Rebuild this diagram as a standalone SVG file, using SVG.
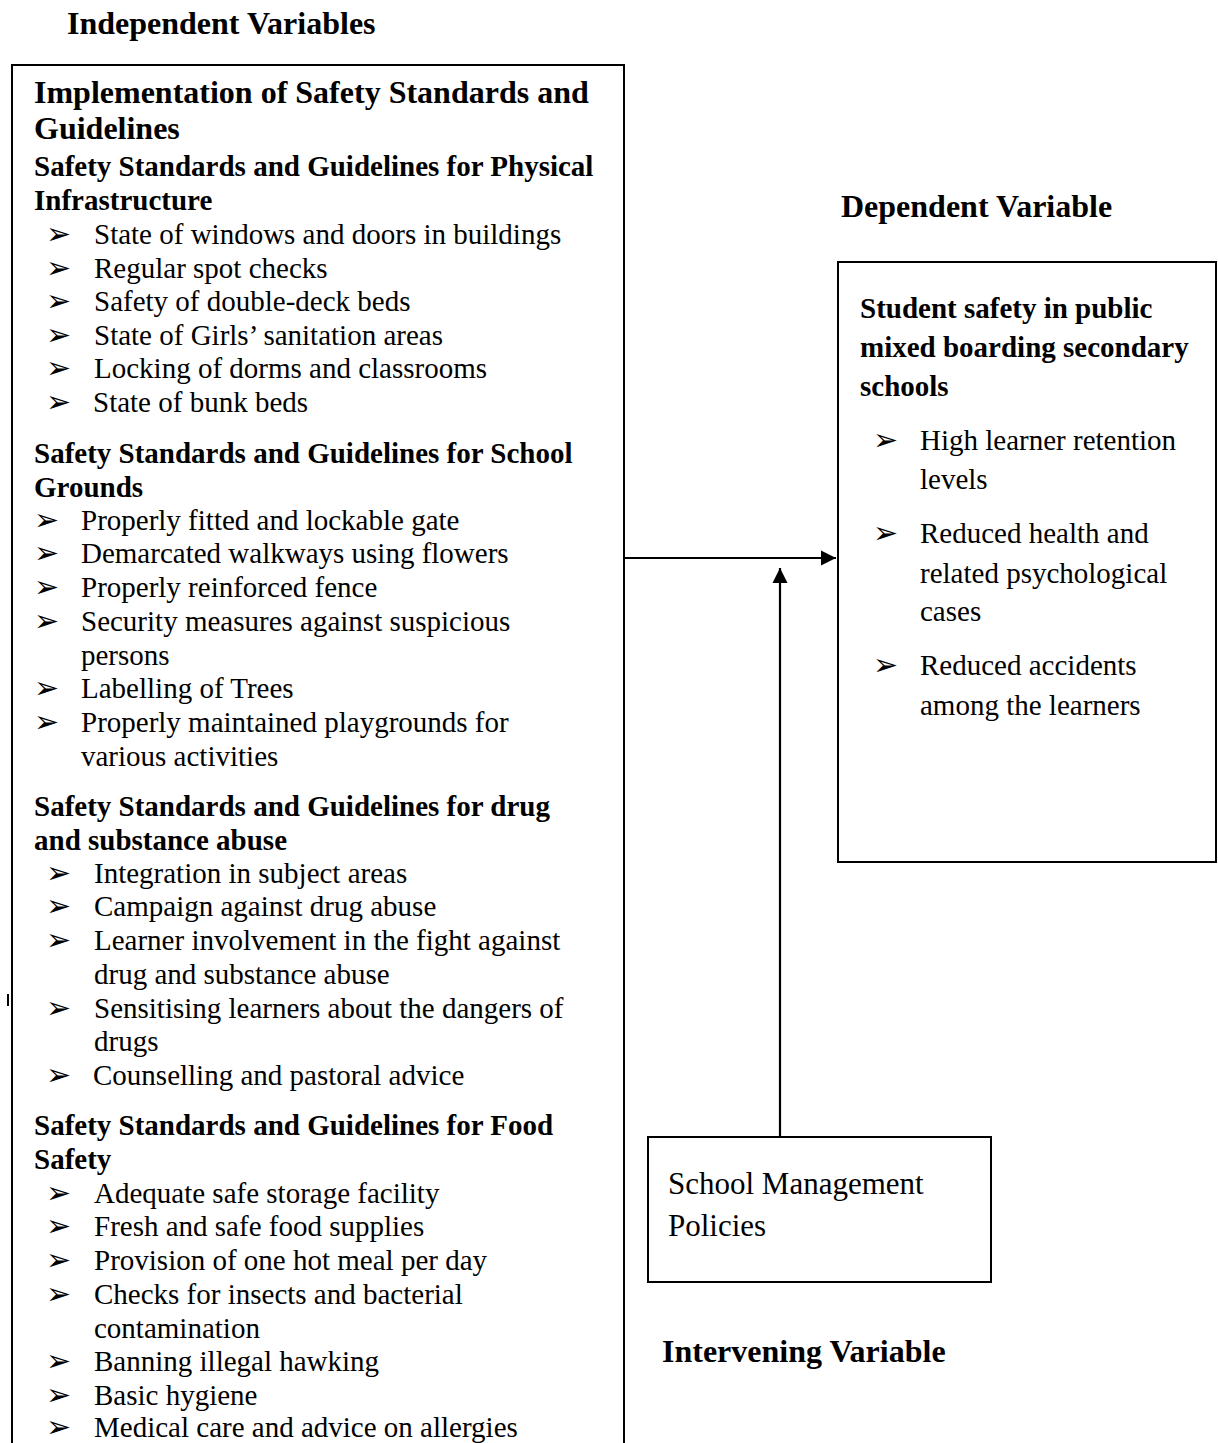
<svg xmlns="http://www.w3.org/2000/svg" width="1218" height="1443" viewBox="0 0 1218 1443">
<defs>
<style>
.h{font-family:"Liberation Serif",serif;font-weight:bold;font-size:32px;fill:#000}
.s{font-family:"Liberation Serif",serif;font-weight:bold;font-size:29px;fill:#000}
.b{font-family:"Liberation Serif",serif;font-size:29px;fill:#000}
.m{font-family:"Liberation Serif",serif;font-size:31px;fill:#000}
.bl{font-family:"DejaVu Sans",sans-serif;font-size:30px;fill:#000}
.box{fill:#fff;stroke:#000;stroke-width:2}
.conn{stroke:#000;stroke-width:2.2;fill:none}
</style>
<marker id="arr" viewBox="0 0 10 10" refX="10" refY="5" markerWidth="7" markerHeight="7" markerUnits="strokeWidth" orient="auto">
<path d="M0,0 L10,5 L0,10 Z" fill="#000"/>
</marker>
</defs>
<rect width="1218" height="1443" fill="#fff"/>

<text class="h" x="67" y="34">Independent Variables</text>
<text class="h" x="841" y="217">Dependent Variable</text>
<text class="h" x="662" y="1362">Intervening Variable</text>

<g id="independent">
<rect class="box" x="12" y="65" width="612" height="1400"/>
<rect x="7" y="994" width="2" height="12" fill="#000"/>
<text class="h" x="34" y="103">Implementation of Safety Standards and</text>
<text class="h" x="34" y="139">Guidelines</text>
<text class="s" x="34" y="176">Safety Standards and Guidelines for Physical</text>
<text class="s" x="34" y="210">Infrastructure</text>
<g class="bl"><text x="46" y="244">➢</text><text x="46" y="278">➢</text><text x="46" y="311">➢</text><text x="46" y="345">➢</text><text x="46" y="378">➢</text><text x="46" y="412">➢</text></g>
<text class="b" x="94" y="244">State of windows and doors in buildings</text>
<text class="b" x="94" y="278">Regular spot checks</text>
<text class="b" x="94" y="311">Safety of double-deck beds</text>
<text class="b" x="94" y="345">State of Girls’ sanitation areas</text>
<text class="b" x="94" y="378">Locking of dorms and classrooms</text>
<text class="b" x="93" y="412">State of bunk beds</text>

<text class="s" x="34" y="463">Safety Standards and Guidelines for School</text>
<text class="s" x="34" y="497">Grounds</text>
<g class="bl"><text x="34" y="530">➢</text><text x="34" y="563">➢</text><text x="34" y="597">➢</text><text x="34" y="631">➢</text><text x="34" y="698">➢</text><text x="34" y="732">➢</text></g>
<text class="b" x="81" y="530">Properly fitted and lockable gate</text>
<text class="b" x="81" y="563">Demarcated walkways using flowers</text>
<text class="b" x="81" y="597">Properly reinforced fence</text>
<text class="b" x="81" y="631">Security measures against suspicious</text>
<text class="b" x="81" y="665">persons</text>
<text class="b" x="81" y="698">Labelling of Trees</text>
<text class="b" x="81" y="732">Properly maintained playgrounds for</text>
<text class="b" x="81" y="766">various activities</text>

<text class="s" x="34" y="816">Safety Standards and Guidelines for drug</text>
<text class="s" x="34" y="850">and substance abuse</text>
<g class="bl"><text x="46" y="883">➢</text><text x="46" y="916">➢</text><text x="46" y="950">➢</text><text x="46" y="1018">➢</text><text x="46" y="1085">➢</text></g>
<text class="b" x="94" y="883">Integration in subject areas</text>
<text class="b" x="94" y="916">Campaign against drug abuse</text>
<text class="b" x="94" y="950">Learner involvement in the fight against</text>
<text class="b" x="94" y="984">drug and substance abuse</text>
<text class="b" x="94" y="1018">Sensitising learners about the dangers of</text>
<text class="b" x="94" y="1051">drugs</text>
<text class="b" x="93" y="1085">Counselling and pastoral advice</text>

<text class="s" x="34" y="1135">Safety Standards and Guidelines for Food</text>
<text class="s" x="34" y="1169">Safety</text>
<g class="bl"><text x="46" y="1203">➢</text><text x="46" y="1236">➢</text><text x="46" y="1270">➢</text><text x="46" y="1304">➢</text><text x="46" y="1371">➢</text><text x="46" y="1405">➢</text><text x="46" y="1437">➢</text></g>
<text class="b" x="94" y="1203">Adequate safe storage facility</text>
<text class="b" x="94" y="1236">Fresh and safe food supplies</text>
<text class="b" x="94" y="1270">Provision of one hot meal per day</text>
<text class="b" x="94" y="1304">Checks for insects and bacterial</text>
<text class="b" x="94" y="1338">contamination</text>
<text class="b" x="94" y="1371">Banning illegal hawking</text>
<text class="b" x="94" y="1405">Basic hygiene</text>
<text class="b" x="94" y="1437">Medical care and advice on allergies</text>
</g>

<g id="dependent">
<rect class="box" x="838" y="262" width="378" height="600"/>
<text class="s" x="860" y="318">Student safety in public</text>
<text class="s" x="860" y="357">mixed boarding secondary</text>
<text class="s" x="860" y="396">schools</text>
<g class="bl"><text x="873" y="450">➢</text><text x="873" y="543">➢</text><text x="873" y="675">➢</text></g>
<text class="b" x="920" y="450">High learner retention</text>
<text class="b" x="920" y="489">levels</text>
<text class="b" x="920" y="543">Reduced health and</text>
<text class="b" x="920" y="583">related psychological</text>
<text class="b" x="920" y="621">cases</text>
<text class="b" x="920" y="675">Reduced accidents</text>
<text class="b" x="920" y="715">among the learners</text>
</g>

<g id="intervening">
<rect class="box" x="648" y="1137" width="343" height="145"/>
<text class="m" x="668" y="1194">School Management</text>
<text class="m" x="668" y="1236">Policies</text>
</g>

<g id="connectors">
<line class="conn" x1="624" y1="558" x2="836" y2="558" marker-end="url(#arr)"/>
<line class="conn" x1="780" y1="1137" x2="780" y2="568" marker-end="url(#arr)"/>
</g>
</svg>
